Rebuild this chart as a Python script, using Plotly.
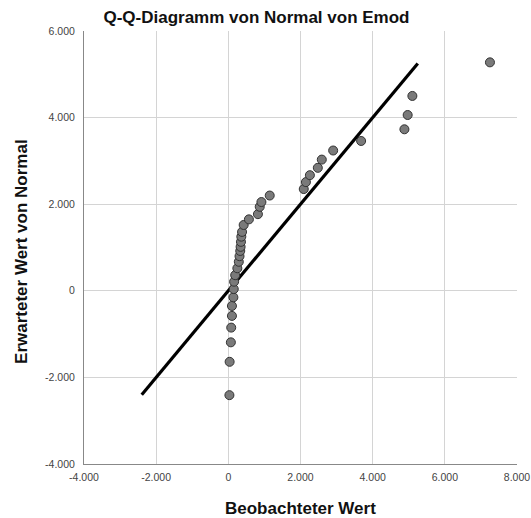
import plotly.graph_objects as go

# Observed values (x) and expected normal values (y)
observed = [30, 36, 70, 80, 100, 100, 140, 150, 160, 190, 250, 290, 310, 330,
            340, 350, 360, 380, 425, 570, 820, 870, 917, 1147,
            2090, 2150, 2260, 2480, 2590, 2905, 3680, 4880, 4970, 5100, 7250]
expected = [-2410, -1640, -1190, -850, -580, -350, -150, 40, 210, 360, 520, 670, 800, 920,
            1015, 1130, 1250, 1360, 1520, 1650, 1770, 1940, 2050, 2200,
            2350, 2510, 2670, 2840, 3030, 3240, 3460, 3730, 4060, 4500, 5276]
line_x = [-2400, 5250]
line_y = [-2400, 5250]

tickvals = [-4000, -2000, 0, 2000, 4000, 6000, 8000]
xticktext = ["-4.000", "-2.000", "0", "2.000", "4.000", "6.000", "8.000"]
yvals = [-4000, -2000, 0, 2000, 4000, 6000]
yticktext = ["-4.000", "-2.000", "0", "2.000", "4.000", "6.000"]

fig = go.Figure()
fig.add_trace(go.Scatter(x=line_x, y=line_y, mode="lines",
                         line=dict(color="black", width=3.2), showlegend=False))
fig.add_trace(go.Scatter(x=observed, y=expected, mode="markers",
                         marker=dict(size=9, color="#7a7a7a",
                                     line=dict(color="#333333", width=1)),
                         showlegend=False))

font = "Liberation Sans, Arial, sans-serif"
fig.update_layout(
    width=531, height=518,
    margin=dict(l=84, r=14, t=31, b=54),
    paper_bgcolor="white", plot_bgcolor="white",
    font=dict(family=font, color="#222"),
    title=dict(text="<b>Q-Q-Diagramm von Normal von Emod</b>", x=0.483, xanchor="center",
               y=0.967, yanchor="middle", font=dict(size=17, color="#111")),
    xaxis=dict(range=[-4000, 8000], tickvals=tickvals, ticktext=xticktext,
               showgrid=True, gridcolor="#d4d4d4", gridwidth=1, zeroline=False,
               showline=True, linecolor="#888", linewidth=1, ticks="",
               automargin=False, ticklabelstandoff=3,
               tickfont=dict(size=10.5, color="#444")),
    yaxis=dict(range=[-4000, 6000], tickvals=yvals, ticktext=yticktext,
               showgrid=True, gridcolor="#d4d4d4", gridwidth=1, zeroline=False,
               showline=True, linecolor="#888", linewidth=1, ticks="",
               automargin=False, ticklabelstandoff=6,
               tickfont=dict(size=10.5, color="#444")),
    annotations=[
        dict(text="<b>Beobachteter Wert</b>", xref="paper", yref="paper",
             x=0.5, y=-0.103, xanchor="center", yanchor="middle", showarrow=False,
             font=dict(size=17, color="#111")),
        dict(text="<b>Erwarteter Wert von Normal</b>", xref="paper", yref="paper",
             x=-0.143, y=0.49, xanchor="center", yanchor="middle", showarrow=False,
             textangle=-90, font=dict(size=17, color="#111")),
    ],
)

fig.write_html("out.html")
